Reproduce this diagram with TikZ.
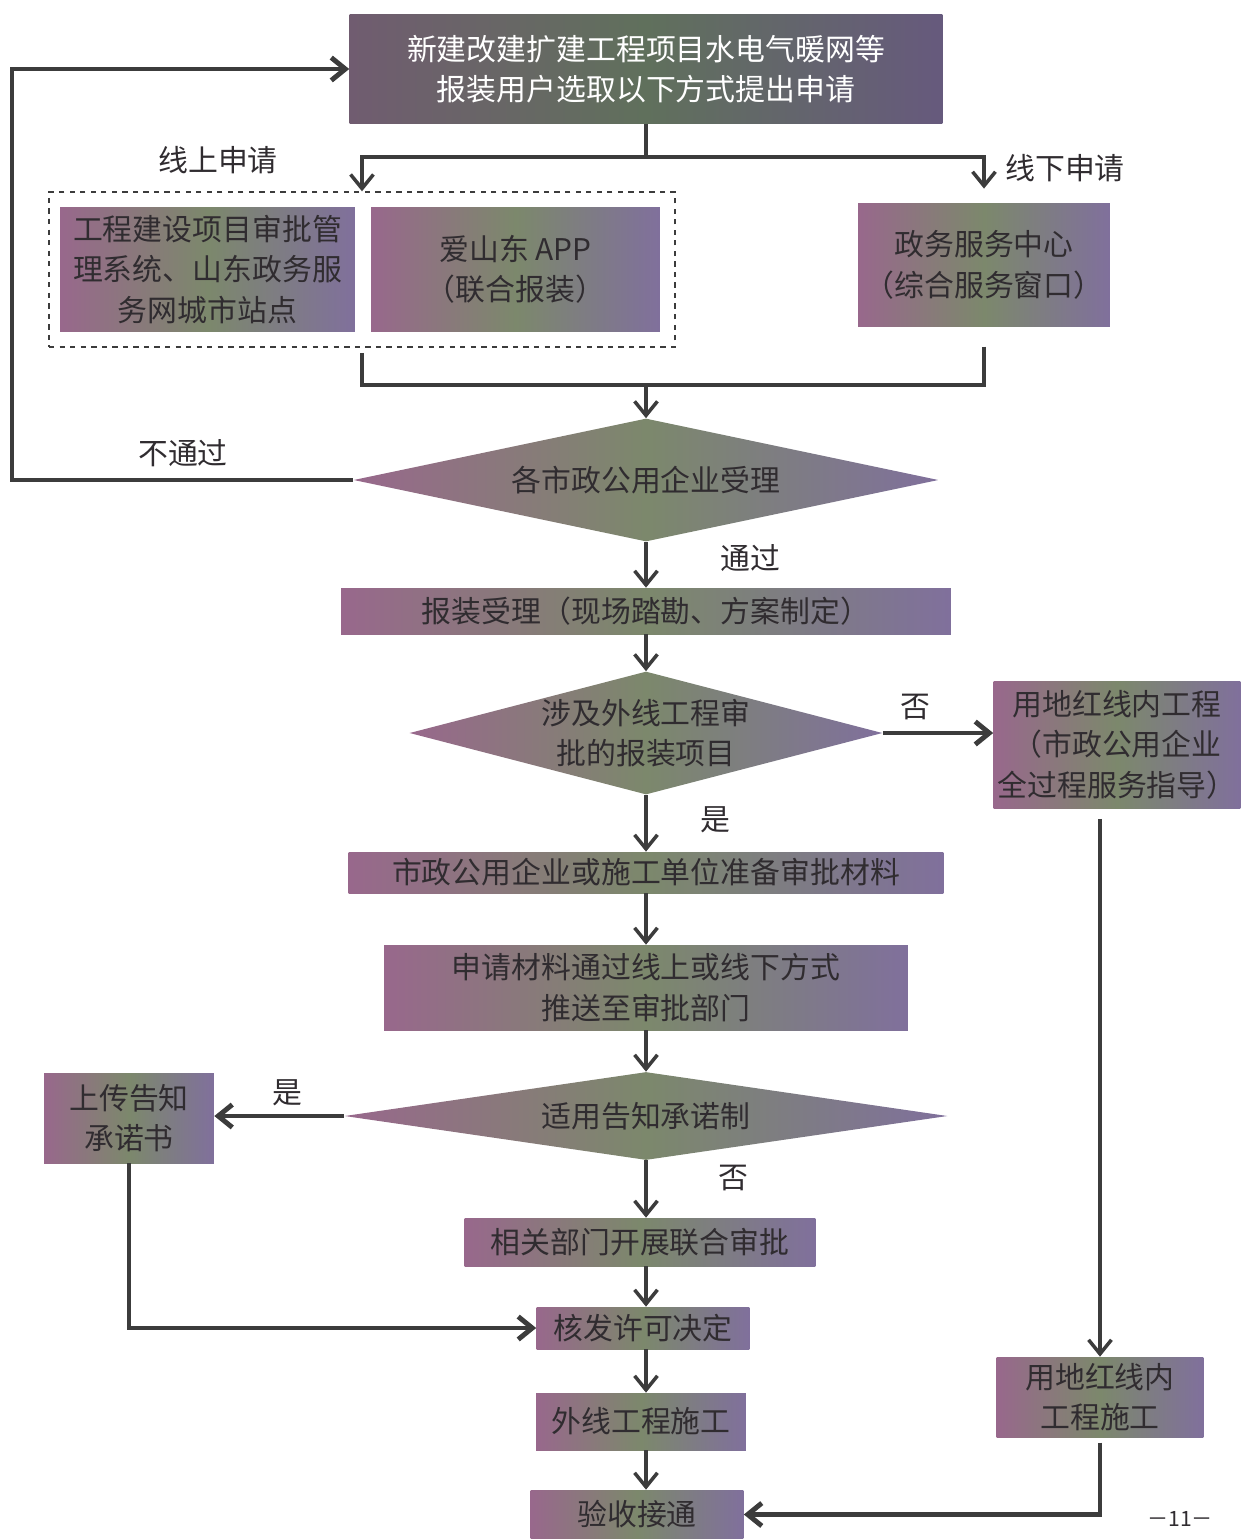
\documentclass[tikz,border=0pt]{standalone}
\usepackage{fontspec}
\setmainfont{Noto Sans CJK SC}
\usepackage{tikz}
\usetikzlibrary{arrows.meta,shapes.geometric}

\definecolor{mauve}{RGB}{152,104,140}
\definecolor{sage}{RGB}{124,136,108}
\definecolor{lilac}{RGB}{128,112,156}
\definecolor{deepmauve}{RGB}{112,92,112}
\definecolor{deepsage}{RGB}{96,112,92}
\definecolor{ink}{RGB}{48,44,48}
\definecolor{wire}{RGB}{60,60,60}

\begin{document}
\begin{tikzpicture}[
            x=0.02cm, y=-0.02cm,
            box/.style={rectangle, inner sep=0pt, align=center,
                left color=mauve, right color=lilac, middle color=sage,
                text=ink, font=\fontsize{17}{23}\selectfont},
            decision/.style={box, diamond},
            flow/.style={draw=wire, line width=2pt, -{Straight Barb[length=8pt,width=13pt]}},
            heavyflow/.style={flow, line width=2.8pt},
            link/.style={draw=wire, line width=2pt},
            remark/.style={text=ink, font=\fontsize{17}{20}\selectfont}
        ]
        \useasboundingbox (0,0) rectangle (1242,1539);

        % application
        \node[box, minimum width=11.86cm, minimum height=2.2cm, text=white,
            left color=deepmauve, right color=lilac!80!black, middle color=deepsage] (apply) at (646,69)
            {新建改建扩建工程项目水电气暖网等\\报装用户选取以下方式提出申请};
        \node[draw=wire, dashed, thick, minimum width=12.52cm, minimum height=3.1cm, inner sep=0pt] (online) at (362,269.5) {};
        \node[box, minimum width=5.9cm, minimum height=2.5cm] (portal) at (207.5,269.5)
            {工程建设项目审批管\\理系统、山东政务服\\务网城市站点};
        \node[box, minimum width=5.78cm, minimum height=2.5cm] (app) at (515.5,269.5)
            {爱山东 APP\\（联合报装）};
        \node[box, minimum width=5.04cm, minimum height=2.48cm] (hall) at (984,265)
            {政务服务中心\\（综合服务窗口）};

        % acceptance
        \node[decision, shape aspect=4.75, minimum width=11.7cm, minimum height=2.46cm] (accept) at (646,480)
            {各市政公用企业受理};
        \node[box, minimum width=12.2cm, minimum height=0.92cm] (survey) at (646,611)
            {报装受理（现场踏勘、方案制定）};
        \node[decision, shape aspect=3.85, minimum width=9.46cm, minimum height=2.46cm] (outer) at (646,733)
            {涉及外线工程审\\批的报装项目};
        \node[box, minimum width=4.94cm, minimum height=2.54cm] (redline) at (1117,744.5)
            {用地红线内工程\\（市政公用企业\\全过程服务指导）};

        % approval
        \node[box, minimum width=11.9cm, minimum height=0.82cm] (material) at (646,872.5)
            {市政公用企业或施工单位准备审批材料};
        \node[box, minimum width=10.48cm, minimum height=1.7cm] (submit) at (646,987.5)
            {申请材料通过线上或线下方式\\推送至审批部门};
        \node[decision, shape aspect=6.85, minimum width=12.06cm, minimum height=1.76cm] (promise) at (646,1116)
            {适用告知承诺制};
        \node[box, minimum width=3.4cm, minimum height=1.8cm] (upload) at (129,1118)
            {上传告知\\承诺书};
        \node[box, minimum width=7.02cm, minimum height=0.96cm] (joint) at (640,1242)
            {相关部门开展联合审批};
        \node[box, minimum width=4.26cm, minimum height=0.84cm] (permit) at (643,1328)
            {核发许可决定};
        \node[box, minimum width=4.2cm, minimum height=1.14cm] (outerbuild) at (641,1421.5)
            {外线工程施工};
        \node[box, minimum width=4.26cm, minimum height=0.98cm] (connect) at (637,1514.5)
            {验收接通};
        \node[box, minimum width=4.14cm, minimum height=1.6cm] (redbuild) at (1100,1397)
            {用地红线内\\工程施工};

        % connectors
        \coordinate (split) at (646,157);
        \coordinate (merge) at (646,385);
        \coordinate (back) at (12,480);
        \draw[link] (apply) -- (split);
        \draw[flow] (split) -| (online.north);
        \draw[flow, shorten >=8pt] (split) -| (hall.north);
        \draw[link, shorten <=3pt] (online.south) |- (merge);
        \draw[link, shorten <=11pt] (hall.south) |- (merge);
        \draw[flow] (merge) -- (accept.north);
        \draw[heavyflow] (accept.west) -- (back) |- (apply.west);
        \draw[flow] (accept.south) -- (survey.north);
        \draw[flow] (survey.south) -- (outer.north);
        \draw[heavyflow] (outer.east) -- (outer.east -| redline.west);
        \draw[flow] (outer.south) -- (material.north);
        \draw[flow] (material.south) -- (submit.north);
        \draw[flow] (submit.south) -- (promise.north);
        \draw[heavyflow] (promise.west) -- (promise.west -| upload.east);
        \draw[flow] (promise.south) -- (promise.south |- joint.north);
        \draw[flow] (promise.south |- joint.south) -- (promise.south |- permit.north);
        \draw[heavyflow] (upload.south) |- (permit.west);
        \draw[flow] (promise.south |- permit.south) -- (promise.south |- outerbuild.north);
        \draw[flow] (promise.south |- outerbuild.south) -- (promise.south |- connect.north);
        \draw[flow, shorten <=6pt] (redbuild.north |- redline.south) -- (redbuild.north);
        \draw[heavyflow, shorten <=3pt] (redbuild.south) |- (connect.east);

        % labels
        \node[remark] (onlinetag) at (218,160) {线上申请};
        \node[remark] (offlinetag) at (1065,168) {线下申请};
        \node[remark] (failtag) at (183,453) {不通过};
        \node[remark] (passtag) at (750,558) {通过};
        \node[remark] (notag1) at (915,707) {否};
        \node[remark] (yestag1) at (715,820) {是};
        \node[remark] (yestag2) at (287,1093) {是};
        \node[remark] (notag2) at (733,1178) {否};
        \node[text=ink, font=\fontsize{12}{14}\selectfont] (page) at (1180,1519) {－11－};
\end{tikzpicture}
\end{document}
